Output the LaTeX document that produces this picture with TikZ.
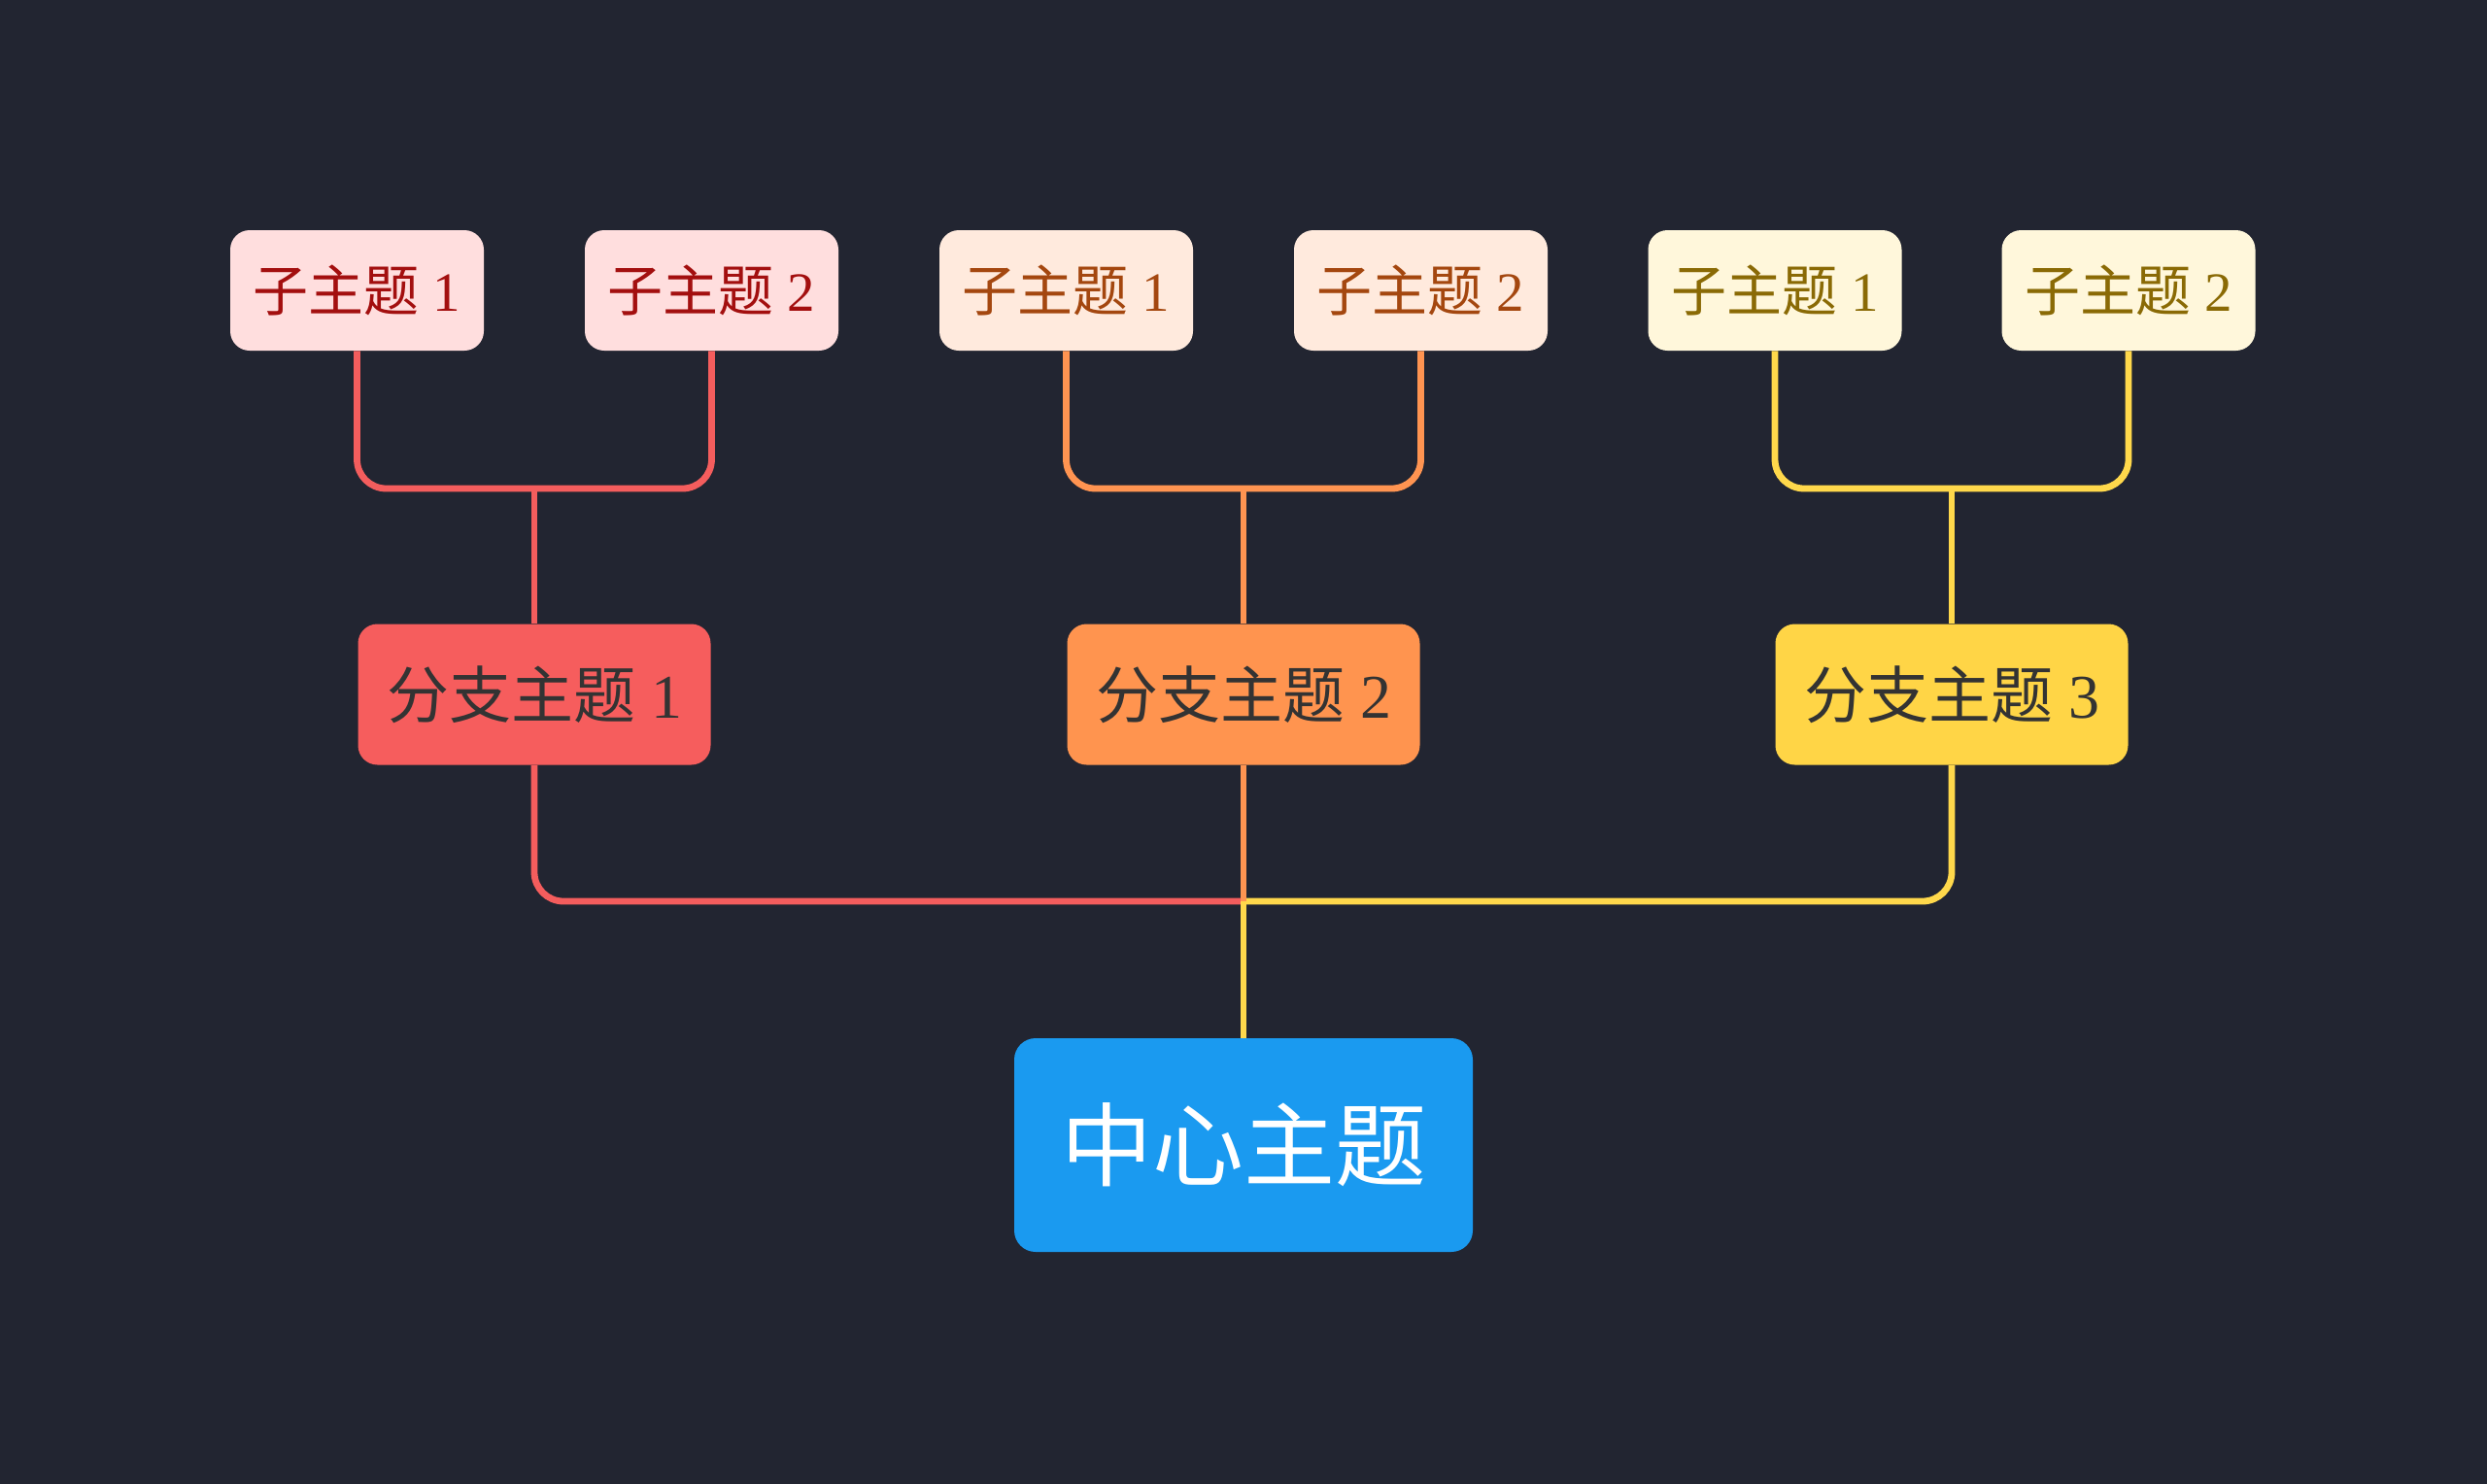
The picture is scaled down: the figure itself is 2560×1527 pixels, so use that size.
\documentclass[tikz,border=0pt]{standalone}
\usepackage{fontspec}
\setmainfont{Liberation Serif}
\newfontfamily\cjk{Noto Sans CJK SC}
\definecolor{bgc}{HTML}{222531}
\definecolor{redfill}{HTML}{FFDEDE}
\definecolor{orafill}{HTML}{FFEADD}
\definecolor{yelfill}{HTML}{FFF7DB}
\definecolor{redtext}{HTML}{A30F0F}
\definecolor{oratext}{HTML}{A4470F}
\definecolor{yeltext}{HTML}{8A6A05}
\definecolor{redbr}{HTML}{F65D5D}
\definecolor{orabr}{HTML}{FF944F}
\definecolor{yelbr}{HTML}{FFD546}
\definecolor{brtext}{HTML}{333333}
\definecolor{cfill}{HTML}{1A9AF0}
\definecolor{redln}{HTML}{F45D5D}
\definecolor{oraln}{HTML}{FF9451}
\definecolor{yelln}{HTML}{FFD84B}
\begin{document}
\begin{tikzpicture}[x=0.5pt,y=-0.5pt,
  subbox/.style={rounded corners=10pt, minimum width=130.5pt, minimum height=62pt, inner sep=0pt, font=\fontsize{28.5}{30}\selectfont},
  brbox/.style={rounded corners=10pt, minimum width=181.5pt, minimum height=72.5pt, inner sep=0pt, text=brtext, font=\fontsize{32}{34}\selectfont},
  cbox/.style={rounded corners=11pt, minimum width=236pt, minimum height=110pt, inner sep=0pt, fill=cfill, text=white, font=\cjk\fontsize{47}{50}\selectfont},
  conn/.style={line width=3.4pt, rounded corners=15pt}]
\useasboundingbox (0,0) rectangle (2560,1527);
\fill[bgc] (-10,-10) rectangle (2570,1537);
% sub topics
\node[subbox, fill=redfill, text=redtext] (s11) at (367.5,299) {{\cjk 子主题} 1};
\node[subbox, fill=redfill, text=redtext] (s12) at (732.5,299) {{\cjk 子主题} 2};
\node[subbox, fill=orafill, text=oratext] (s21) at (1097.5,299) {{\cjk 子主题} 1};
\node[subbox, fill=orafill, text=oratext] (s22) at (1462.5,299) {{\cjk 子主题} 2};
\node[subbox, fill=yelfill, text=yeltext] (s31) at (1827,299) {{\cjk 子主题} 1};
\node[subbox, fill=yelfill, text=yeltext] (s32) at (2191,299) {{\cjk 子主题} 2};
% branches
\node[brbox, fill=redbr] (b1) at (550,715) {{\cjk 分支主题} 1};
\node[brbox, fill=orabr] (b2) at (1280,715) {{\cjk 分支主题} 2};
\node[brbox, fill=yelbr] (b3) at (2009,715) {{\cjk 分支主题} 3};
% center
\node[cbox] (c) at (1280,1179) {中心主题};
% junctions
\coordinate (j1) at (550,503);
\coordinate (j2) at (1280,503);
\coordinate (j3) at (2009,503);
\coordinate (jc) at (1280,928);
% sub connectors
\draw[conn, redln] (s11.south) -- (s11.south |- j1) -- (s12.south |- j1) -- (s12.south);
\draw[conn, redln] (j1) -- (b1.north);
\draw[conn, oraln] (s21.south) -- (s21.south |- j2) -- (s22.south |- j2) -- (s22.south);
\draw[conn, oraln] (j2) -- (b2.north);
\draw[conn, yelln] (s31.south) -- (s31.south |- j3) -- (s32.south |- j3) -- (s32.south);
\draw[conn, yelln] (j3) -- (b3.north);
% lower connectors
\draw[conn, redln] (b1.south) -- (b1.south |- jc) -- (jc);
\draw[conn, yelln] (b3.south) -- (b3.south |- jc) -- (jc);
\draw[conn, yelln] (jc) -- (c.north);
\draw[conn, oraln] (b2.south) -- (jc);
\end{tikzpicture}
\end{document}
